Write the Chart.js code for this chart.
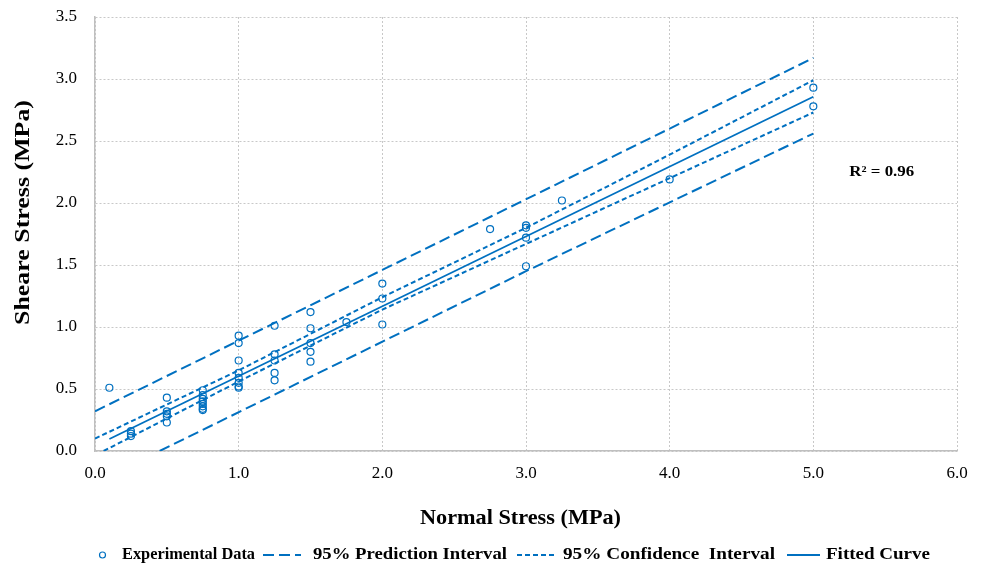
<!DOCTYPE html>
<html>
<head>
<meta charset="utf-8">
<script src="https://cdn.jsdelivr.net/npm/chart.js@4.4.1/dist/chart.umd.min.js"></script>
<style>
  html, body { margin: 0; padding: 0; background: #fff; }
  #wrap { width: 984px; height: 566px; position: relative; }
</style>
</head>
<body>
<div id="wrap"><canvas id="shearChart" width="984" height="566"></canvas></div>
<script>
// experimental points (normal stress, shear stress) in MPa
const expX = [0.1,
  0.25, 0.25, 0.25,
  0.5, 0.5, 0.5, 0.5, 0.5,
  0.75, 0.75, 0.75, 0.75, 0.75, 0.75, 0.75, 0.75,
  1.0, 1.0, 1.0, 1.0, 1.0, 1.0, 1.0, 1.0,
  1.25, 1.25, 1.25, 1.25, 1.25,
  1.5, 1.5, 1.5, 1.5, 1.5,
  1.75,
  2.0, 2.0, 2.0,
  2.75,
  3.0, 3.0, 3.0, 3.0,
  3.25,
  4.0,
  5.0, 5.0];
const expY = [0.51,
  0.16, 0.14, 0.12,
  0.43, 0.32, 0.30, 0.28, 0.23,
  0.49, 0.45, 0.42, 0.40, 0.38, 0.36, 0.34, 0.33,
  0.93, 0.87, 0.73, 0.63, 0.59, 0.55, 0.52, 0.51,
  1.01, 0.78, 0.73, 0.63, 0.57,
  1.12, 0.99, 0.87, 0.80, 0.72,
  1.04,
  1.35, 1.23, 1.02,
  1.79,
  1.82, 1.80, 1.72, 1.49,
  2.02,
  2.19,
  2.93, 2.78];

const fitX = [0.1, 5.0];
const fitY = [0.097, 2.857];

const predUpX = [0, 2, 5];
const predUpY = [0.32, 1.46, 3.17];
const predLoX = [0.45, 3, 5];
const predLoY = [0.0, 1.45, 2.56];

const confUpX = [0, 1, 2, 3, 4, 5];
const confUpY = [0.10, 0.65, 1.24, 1.80, 2.39, 2.99];
const confLoX = [0.06, 1, 2, 3, 4, 5];
const confLoY = [0.0, 0.56, 1.14, 1.67, 2.20, 2.73];

const xTicks = [0, 1, 2, 3, 4, 5, 6];
const yTicks = [0, 0.5, 1, 1.5, 2, 2.5, 3, 3.5];

const legendLabels = ['Experimental Data', '95% Prediction Interval', '95% Confidence  Interval', 'Fitted Curve'];
const r2Text = 'R\u00B2 = 0.96';

const blue = '#0070C0';
const serif = '"Liberation Serif", "Times New Roman", serif';

const pts = (xs, ys) => xs.map((x, i) => ({ x: x, y: ys[i] }));

const lineSet = (label, data, dash, width) => ({
  type: 'line',
  label: label,
  data: data,
  borderColor: blue,
  borderWidth: width,
  borderDash: dash,
  pointRadius: 0,
  fill: false,
  tension: 0
});

// text squeezed/stretched horizontally to a given width (left aligned)
function wideText(ctx, text, x, y, w) {
  const k = w / ctx.measureText(text).width;
  ctx.save();
  ctx.translate(x, y);
  ctx.scale(k, 1);
  ctx.fillText(text, 0, 0);
  ctx.restore();
}

// axis titles, R² note and the legend row
const extras = {
  id: 'extras',
  afterDraw(chart) {
    const ctx = chart.ctx;
    const xs = chart.scales.x, ys = chart.scales.y;
    ctx.save();
    ctx.fillStyle = '#000';
    ctx.textBaseline = 'middle';
    ctx.textAlign = 'left';

    ctx.font = 'bold 22px ' + serif;
    wideText(ctx, 'Normal Stress (MPa)', 420, 518, 201);

    ctx.save();
    ctx.translate(23, 325);
    ctx.rotate(-Math.PI / 2);
    wideText(ctx, 'Sheare Stress (MPa)', 0, 0, 225);
    ctx.restore();

    ctx.font = 'bold 15px ' + serif;
    wideText(ctx, r2Text, xs.getPixelForValue(5.25), ys.getPixelForValue(2.25), 65);

    // legend: symbol start/end, text start, text width
    const y = 555;
    const items = [
      { s0: 99, s1: 105, t: 122, w: 133, dash: null },
      { s0: 263, s1: 301, t: 313, w: 194, dash: [11, 5] },
      { s0: 517, s1: 556, t: 563, w: 212, dash: [5, 3] },
      { s0: 787, s1: 820, t: 826, w: 104, dash: [] }
    ];
    ctx.font = 'bold 16px ' + serif;
    ctx.strokeStyle = blue;
    items.forEach((it, i) => {
      if (!it.dash) {
        ctx.lineWidth = 1.2;
        ctx.setLineDash([]);
        ctx.beginPath();
        ctx.arc((it.s0 + it.s1) / 2 + 0.5, y, 3, 0, Math.PI * 2);
        ctx.stroke();
      } else {
        ctx.lineWidth = 2;
        ctx.setLineDash(it.dash);
        ctx.beginPath();
        ctx.moveTo(it.s0, y);
        ctx.lineTo(it.s1, y);
        ctx.stroke();
      }
      wideText(ctx, legendLabels[i], it.t, y, it.w);
    });
    ctx.restore();
  }
};

new Chart(document.getElementById('shearChart').getContext('2d'), {
  type: 'scatter',
  data: {
    datasets: [
      {
        label: legendLabels[0],
        data: pts(expX, expY),
        pointStyle: 'circle',
        pointRadius: 3.5,
        pointBorderWidth: 1.2,
        pointBorderColor: blue,
        pointBackgroundColor: 'rgba(0,0,0,0)',
        showLine: false
      },
      lineSet(legendLabels[1], pts(predUpX, predUpY), [11, 5], 2),
      lineSet(legendLabels[1], pts(predLoX, predLoY), [11, 5], 2),
      lineSet(legendLabels[2], pts(confUpX, confUpY), [5, 3], 2),
      lineSet(legendLabels[2], pts(confLoX, confLoY), [5, 3], 2),
      lineSet(legendLabels[3], pts(fitX, fitY), [], 1.8)
    ]
  },
  options: {
    responsive: false,
    animation: false,
    layout: { padding: { left: 0, right: 27, top: 17, bottom: 75 } },
    plugins: {
      legend: { display: false },
      tooltip: { enabled: false }
    },
    scales: {
      x: {
        type: 'linear',
        min: 0,
        max: 6,
        afterBuildTicks: s => { s.ticks = xTicks.map(v => ({ value: v })); },
        afterFit: s => { s.height = 40; },
        ticks: {
          color: '#000',
          padding: 12,
          maxRotation: 0,
          font: { family: serif, size: 17 },
          callback: v => Number(v).toFixed(1)
        },
        grid: { color: '#c8c8c8', lineWidth: 1, drawTicks: false },
        border: { display: true, color: '#bfbfbf', width: 1.5, dash: [2, 2] }
      },
      y: {
        type: 'linear',
        min: 0,
        max: 3.5,
        afterBuildTicks: s => { s.ticks = yTicks.map(v => ({ value: v })); },
        afterFit: s => { s.width = 95; },
        ticks: {
          color: '#000',
          padding: 0,
          font: { family: serif, size: 17 },
          callback: v => Number(v).toFixed(1)
        },
        grid: { color: '#c8c8c8', lineWidth: 1, drawTicks: true, tickLength: 18, tickColor: 'rgba(0,0,0,0)' },
        border: { display: true, color: '#bfbfbf', width: 1.5, dash: [2, 2] }
      }
    }
  },
  plugins: [extras]
});
</script>
</body>
</html>
